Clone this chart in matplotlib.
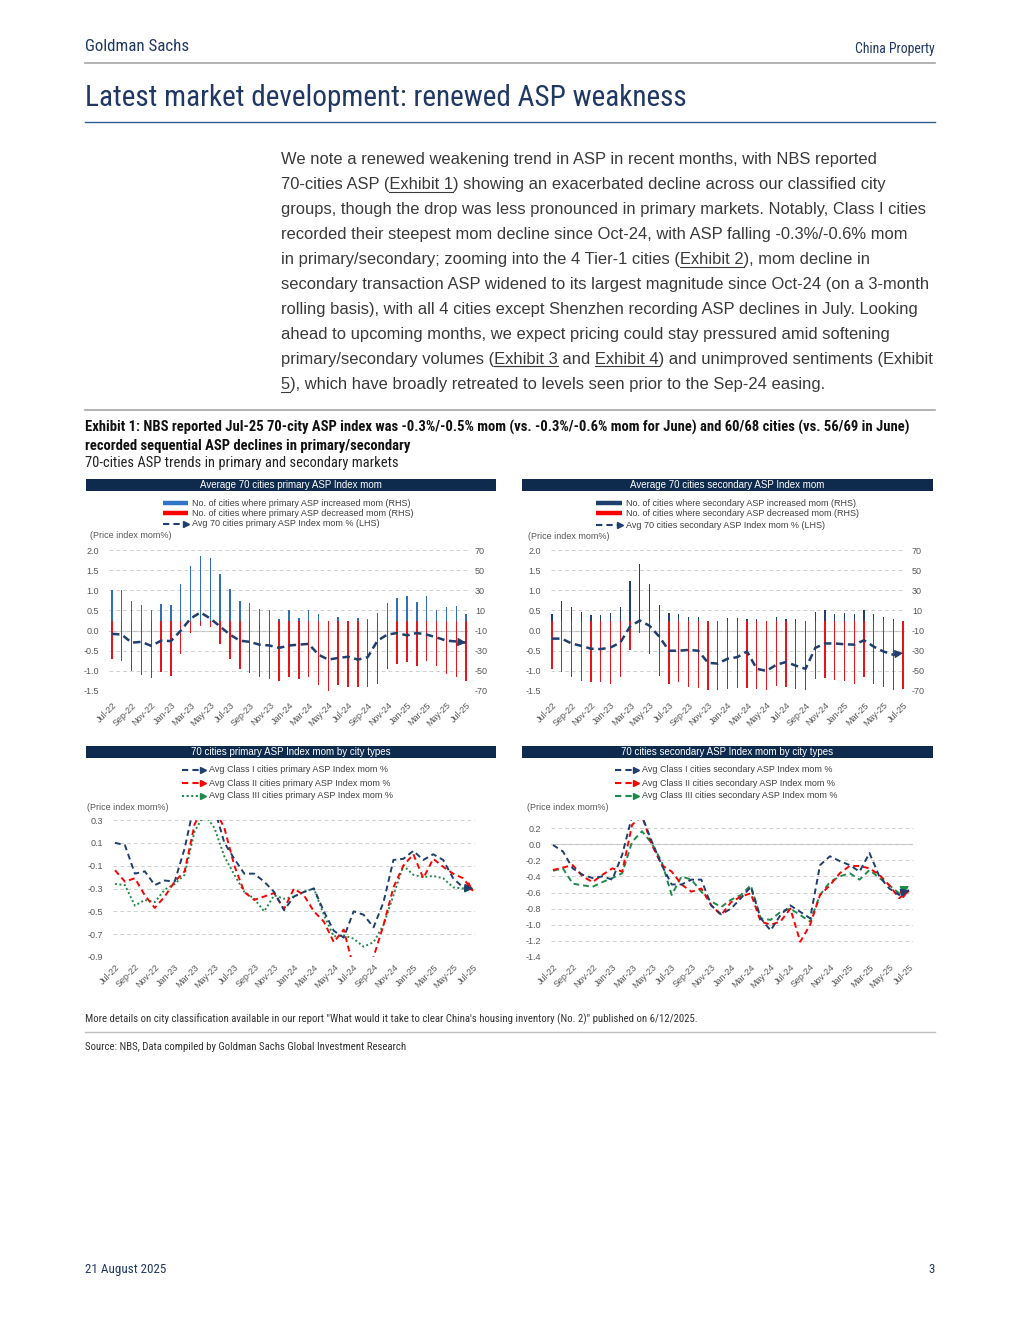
import matplotlib
matplotlib.use('Agg')
import matplotlib.pyplot as plt
from matplotlib import font_manager
from matplotlib.lines import Line2D
from matplotlib.patches import Rectangle

# ---- data ----
months = ['Jul-22', 'Aug-22', 'Sep-22', 'Oct-22', 'Nov-22', 'Dec-22', 'Jan-23', 'Feb-23', 'Mar-23',
          'Apr-23', 'May-23', 'Jun-23', 'Jul-23', 'Aug-23', 'Sep-23', 'Oct-23', 'Nov-23', 'Dec-23',
          'Jan-24', 'Feb-24', 'Mar-24', 'Apr-24', 'May-24', 'Jun-24', 'Jul-24', 'Aug-24', 'Sep-24',
          'Oct-24', 'Nov-24', 'Dec-24', 'Jan-25', 'Feb-25', 'Mar-25', 'Apr-25', 'May-25', 'Jun-25',
          'Jul-25']
tick_labels = months[::2]

# primary market: no. of cities up / down (RHS), avg mom % (LHS)
primary_up = [30, 30, 19, 15, 10, 16, 15, 36, 54, 64, 62, 46, 31, 19, 17, 11, 10, 1, 10, 2, 10,
              6, 0, 3, 0, 2, 1, 7, 17, 22, 24, 18, 24, 10, 13, 14, 6]
primary_down = [38, 40, 50, 54, 57, 51, 55, 33, 12, 5, 6, 23, 38, 48, 52, 56, 58, 60, 56, 58, 56,
                64, 70, 64, 66, 66, 66, 63, 48, 43, 41, 45, 40, 45, 53, 56, 60]
primary_avg = [-0.08, -0.1, -0.3, -0.28, -0.38, -0.25, -0.26, 0.0, 0.3, 0.45, 0.3, 0.1, -0.1,
               -0.25, -0.28, -0.35, -0.37, -0.43, -0.37, -0.35, -0.33, -0.6, -0.72, -0.68, -0.65,
               -0.72, -0.66, -0.25, -0.1, -0.06, -0.12, -0.06, -0.1, -0.17, -0.25, -0.27, -0.3]

# secondary market
secondary_up = [6, 19, 13, 8, 5, 5, 7, 13, 39, 56, 36, 15, 7, 6, 3, 3, 0, 0, 2, 2, 1, 1, 0, 3, 1,
                1, 0, 8, 10, 6, 7, 6, 10, 6, 3, 1, 0]
secondary_down = [48, 51, 56, 60, 61, 61, 63, 56, 29, 12, 33, 55, 63, 61, 66, 67, 69, 69, 68, 67,
                  67, 68, 69, 65, 66, 68, 69, 58, 57, 59, 60, 63, 56, 63, 66, 69, 68]
secondary_avg = [-0.2, -0.2, -0.32, -0.38, -0.45, -0.46, -0.42, -0.3, 0.1, 0.25, 0.12, -0.15,
                 -0.5, -0.5, -0.48, -0.5, -0.8, -0.82, -0.7, -0.66, -0.52, -0.95, -1.0, -0.85,
                 -0.78, -0.87, -0.95, -0.43, -0.32, -0.32, -0.34, -0.35, -0.24, -0.4, -0.52,
                 -0.6, -0.56]

# primary by city class
prim_c1 = [0.1, 0.08, -0.17, -0.15, -0.27, -0.23, -0.24, 0.05, 0.45, 0.6, 0.4, 0.1, -0.04, -0.17,
           -0.17, -0.24, -0.33, -0.49, -0.37, -0.33, -0.3, -0.5, -0.67, -0.73, -0.5, -0.53, -0.64,
           -0.42, -0.05, -0.04, 0.03, -0.05, 0.0, -0.05, -0.21, -0.29, -0.3]
prim_c2 = [-0.14, -0.24, -0.21, -0.36, -0.47, -0.37, -0.24, -0.15, 0.26, 0.45, 0.4, 0.23, -0.1,
           -0.33, -0.4, -0.37, -0.34, -0.48, -0.3, -0.36, -0.5, -0.59, -0.77, -0.66, -1.0, -1.1,
           -0.9, -0.62, -0.29, -0.1, 0.0, -0.21, -0.04, -0.11, -0.17, -0.21, -0.32]
prim_c3 = [-0.26, -0.27, -0.45, -0.4, -0.42, -0.31, -0.26, -0.18, 0.2, 0.35, 0.23, -0.02, -0.18,
           -0.33, -0.39, -0.5, -0.36, -0.39, -0.37, -0.33, -0.3, -0.53, -0.72, -0.71, -0.74, -0.81,
           -0.77, -0.62, -0.36, -0.1, -0.18, -0.2, -0.19, -0.21, -0.29, -0.3, -0.3]

# secondary by city class
sec_c1 = [-0.01, -0.09, -0.3, -0.38, -0.42, -0.4, -0.44, -0.13, 0.35, 0.35, 0.03, -0.26, -0.5,
          -0.5, -0.44, -0.44, -0.76, -0.87, -0.8, -0.67, -0.53, -0.92, -1.07, -0.88, -0.76, -0.84,
          -0.92, -0.26, -0.15, -0.21, -0.26, -0.34, -0.11, -0.4, -0.55, -0.63, -0.57]
sec_c2 = [-0.32, -0.29, -0.26, -0.4, -0.47, -0.38, -0.3, -0.34, 0.24, 0.35, -0.01, -0.26, -0.34,
          -0.5, -0.59, -0.55, -0.76, -0.88, -0.72, -0.65, -0.61, -0.96, -1.0, -0.96, -0.8, -1.21,
          -1.0, -0.63, -0.51, -0.36, -0.27, -0.27, -0.3, -0.38, -0.51, -0.67, -0.58]
sec_c3 = [-0.33, -0.3, -0.49, -0.51, -0.53, -0.47, -0.42, -0.36, 0.03, 0.16, 0.01, -0.22, -0.63,
          -0.4, -0.44, -0.59, -0.71, -0.78, -0.69, -0.63, -0.51, -0.92, -0.94, -0.84, -0.8, -0.88,
          -0.96, -0.63, -0.47, -0.4, -0.36, -0.44, -0.32, -0.42, -0.51, -0.61, -0.52]

body_lines = [
    "We note a renewed weakening trend in ASP in recent months, with NBS reported",
    "70-cities ASP (Exhibit 1) showing an exacerbated decline across our classified city",
    "groups, though the drop was less pronounced in primary markets. Notably, Class I cities",
    "recorded their steepest mom decline since Oct-24, with ASP falling -0.3%/-0.6% mom",
    "in primary/secondary; zooming into the 4 Tier-1 cities (Exhibit 2), mom decline in",
    "secondary transaction ASP widened to its largest magnitude since Oct-24 (on a 3-month",
    "rolling basis), with all 4 cities except Shenzhen recording ASP declines in July. Looking",
    "ahead to upcoming months, we expect pricing could stay pressured amid softening",
    "primary/secondary volumes (Exhibit 3 and Exhibit 4) and unimproved sentiments (Exhibit",
    "5), which have broadly retreated to levels seen prior to the Sep-24 easing.",
]
underlined = [(1, "Exhibit 1"), (4, "Exhibit 2"), (8, "Exhibit 3"), (8, "Exhibit 4"),
              (8, "(Exhibit"), (9, "5")]

# ---- page setup ----
W, H = 1020, 1320
NAVY = '#1f3864'
BAR_NAVY = '#0e2b4d'
GREY_TXT = '#595959'
RED = '#ff0000'
GREEN = '#1e8a4a'

names = {f.name for f in font_manager.fontManager.ttflist}
COND = 'Liberation Sans'
for cand in ['Liberation Sans Narrow', 'Roboto Condensed', 'DejaVu Sans Condensed']:
    if cand in names:
        COND = cand
        break
SANS = 'Liberation Sans' if 'Liberation Sans' in names else 'DejaVu Sans'
plt.rcParams['font.family'] = [SANS, 'DejaVu Sans']
plt.rcParams['axes.unicode_minus'] = False

fig = plt.figure(figsize=(W / 100, H / 100), dpi=100)
renderer = fig.canvas.get_renderer()


def fx(x):
    return x / W


def fy(y):
    return 1 - y / H


def text_w(s, size, family, weight='normal'):
    fp = font_manager.FontProperties(family=family, size=size, weight=weight)
    return renderer.get_text_width_height_descent(s, fp, ismath=False)[0]


def fit_size(s, target, family, weight='normal'):
    return 10 * target / text_w(s, 10, family, weight)


def hline(x0, x1, y, color, lw=1.0):
    fig.add_artist(Line2D([fx(x0), fx(x1)], [fy(y), fy(y)], color=color, lw=lw))


def ftext(x, y, s, size, family=SANS, color='#333333', weight='normal', ha='left', va='baseline'):
    fig.text(fx(x), fy(y), s, fontsize=size, family=family, color=color, weight=weight,
             ha=ha, va=va)


# header
ftext(85, 51, 'Goldman Sachs', fit_size('Goldman Sachs', 104, COND), COND, NAVY)
ftext(935, 53, 'China Property', fit_size('China Property', 80, COND), COND, NAVY, ha='right')
hline(85, 935, 63, '#a6a6a6', 1.2)
title = 'Latest market development: renewed ASP weakness'
ftext(85, 106, title, fit_size(title, 596, COND), COND, NAVY)
hline(85, 935, 122, '#2f5f8f', 1.0)

# body paragraph
bsize = fit_size(body_lines[8], 652, SANS)
for i, line in enumerate(body_lines):
    yb = 164 + 25 * i
    ftext(281, yb, line, bsize, SANS, '#3a3a3a')
for li, sub in underlined:
    line = body_lines[li]
    k = line.index(sub)
    if sub.startswith('('):
        k += 1
        sub = sub[1:]
    x0 = 281 + text_w(line[:k], bsize, SANS)
    x1 = x0 + text_w(sub, bsize, SANS)
    yb = 164 + 25 * li + 2.5
    hline(x0, x1, yb, '#3a3a3a', 0.8)

hline(85, 935, 410, '#a6a6a6', 1.2)

# exhibit caption
cap1 = ('Exhibit 1: NBS reported Jul-25 70-city ASP index was -0.3%/-0.5% mom (vs. -0.3%/-0.6% '
        'mom for June) and 60/68 cities (vs. 56/69 in June)')
cap2 = 'recorded sequential ASP declines in primary/secondary'
cap3 = '70-cities ASP trends in primary and secondary markets'
csize = fit_size(cap1, 825, COND, 'bold')
ftext(85, 432, cap1, csize, COND, '#111111', 'bold')
ftext(85, 450, cap2, csize, COND, '#111111', 'bold')
ftext(85, 467, cap3, fit_size(cap3, 310, COND), COND, '#222222')

FS = 6.5


def panel_title(x0, x1, y0, y1, s):
    fig.add_artist(Rectangle((fx(x0), fy(y1)), (x1 - x0) / W, (y1 - y0) / H,
                             color=BAR_NAVY, lw=0))
    fig.text(fx((x0 + x1) / 2), fy((y0 + y1) / 2), s, color='white', fontsize=7,
             ha='center', va='center')


def legend_row(x0, x1, y, s, color, kind):
    if kind == 'bar':
        fig.add_artist(Line2D([fx(x0), fx(x1)], [fy(y), fy(y)], color=color, lw=3.2,
                              solid_capstyle='butt'))
    else:
        ls = (0, (1, 1.2)) if kind == 'dot' else (0, (3, 2))
        fig.add_artist(Line2D([fx(x0), fx(x1 - 3)], [fy(y), fy(y)], color=color, lw=1.5,
                              linestyle=ls))
        fig.add_artist(Line2D([fx(x1 - 2)], [fy(y)], color=color, marker='>', markersize=4,
                              lw=0))
    fig.text(fx(x1 + 4), fy(y), s, fontsize=FS, color='#404040', va='center')


def add_ax(l, t, r, b):
    return fig.add_axes([fx(l), fy(b), (r - l) / W, (b - t) / H])


def style_x(ax, pad):
    ax.set_xticks(range(0, len(months), 2))
    ax.set_xticklabels(tick_labels, rotation=45, ha='right', rotation_mode='anchor',
                       fontsize=FS, color=GREY_TXT)
    ax.tick_params(axis='x', length=0, pad=pad)
    for sp in ax.spines.values():
        sp.set_visible(False)


def arrow_end(ax, ys, color):
    n = len(ys)
    ax.annotate('', xy=(n - 1, ys[-1]), xytext=(n - 1.6, ys[-2] + 0.6 * (ys[-1] - ys[-2])),
                arrowprops=dict(arrowstyle='-|>,head_length=0.5,head_width=0.25', color=color,
                                lw=0.8, shrinkA=0, shrinkB=0), annotation_clip=False)


def bar_panel(l, t, r, b, xlim, up, down, avg, up_color):
    ax = add_ax(l, t, r, b)
    x = range(len(months))
    ax.bar(x, up, width=0.14, color=up_color, zorder=2)
    ax.bar(x, [-d for d in down], width=0.14, color='#e8141b', zorder=2)
    ax.set_ylim(-70, 70)
    ax.set_yticks(range(-70, 71, 20))
    ax.grid(axis='y', color='#d0d0d0', lw=0.7, linestyle=(0, (4, 3)), zorder=0)
    ax.axhline(-10, color='#bfbfbf', lw=0.8, zorder=1)
    ax.set_xlim(*xlim)
    style_x(ax, 7)
    ax2 = ax.twinx()
    ax.yaxis.tick_right()
    ax.tick_params(axis='y', length=0, labelsize=FS, labelcolor=GREY_TXT, pad=5,
                   labelleft=False, labelright=True)
    ax2.plot(x, avg, color='#1f3f6e', lw=1.8, linestyle=(0, (3, 1.8)))
    arrow_end(ax2, avg, '#1f3f6e')
    ax2.set_ylim(-1.5, 2.0)
    ax2.set_yticks([-1.5, -1.0, -0.5, 0.0, 0.5, 1.0, 1.5, 2.0])
    ax2.set_yticklabels(['%.1f' % v for v in ax2.get_yticks()])
    ax2.yaxis.tick_left()
    ax2.tick_params(axis='y', length=0, labelsize=FS, labelcolor=GREY_TXT, pad=7,
                    labelleft=True, labelright=False)
    for sp in ax2.spines.values():
        sp.set_visible(False)
    ax2.set_xlim(*xlim)


def class_panel(l, t, r, b, xlim, ylim, yticks, series, zero):
    ax = add_ax(l, t, r, b)
    x = range(len(months))
    ax.set_ylim(*ylim)
    ax.set_yticks(yticks)
    ax.set_yticklabels(['%.1f' % v for v in yticks])
    ax.tick_params(axis='y', length=0, labelsize=FS, labelcolor=GREY_TXT, pad=7)
    ax.grid(axis='y', color='#d0d0d0', lw=0.7, linestyle=(0, (4, 3)), zorder=0)
    if zero:
        ax.axhline(0, color='#bfbfbf', lw=0.8, zorder=1)
    for ys, color, ls in series:
        ax.plot(x, ys, color=color, lw=1.4, linestyle=ls, zorder=3)
        arrow_end(ax, ys, color)
    ax.set_xlim(*xlim)
    style_x(ax, 4)


# top-left: primary bars
panel_title(86, 496, 479, 491, 'Average 70 cities primary ASP Index mom')
legend_row(163, 188, 503, 'No. of cities where primary ASP increased mom (RHS)', '#2e75c9', 'bar')
legend_row(163, 188, 513, 'No. of cities where primary ASP decreased mom (RHS)', '#ff0000', 'bar')
legend_row(163, 188, 524, 'Avg 70 cities primary ASP Index mom % (LHS)', '#1f3f6e', 'dash')
ftext(90, 536, '(Price index mom%)', FS, color=GREY_TXT, va='center')
bar_panel(109, 550, 468, 691, (-0.3, 36.2), primary_up, primary_down, primary_avg, '#2e6fb7')

# top-right: secondary bars
panel_title(522, 933, 479, 491, 'Average 70 cities secondary ASP Index mom')
legend_row(596, 622, 503, 'No. of cities where secondary ASP increased mom (RHS)', '#1f3f6e', 'bar')
legend_row(596, 622, 513, 'No. of cities where secondary ASP decreased mom (RHS)', '#ff0000', 'bar')
legend_row(596, 622, 525, 'Avg 70 cities secondary ASP Index mom % (LHS)', '#1f3f6e', 'dash')
ftext(528, 537, '(Price index mom%)', FS, color=GREY_TXT, va='center')
bar_panel(551, 550, 905, 691, (-0.1, 36.2), secondary_up, secondary_down, secondary_avg,
          '#1f3f6e')

# bottom-left: primary by city class
DASH = (0, (3, 2))
DOT = (0, (1, 1.3))
panel_title(86, 496, 746, 758, '70 cities primary ASP Index mom by city types')
legend_row(182, 205, 770, 'Avg Class I cities primary ASP Index mom %', '#1f3f6e', 'dash')
legend_row(182, 205, 783, 'Avg Class II cities primary ASP Index mom %', RED, 'dash')
legend_row(182, 205, 796, 'Avg Class III cities primary ASP Index mom %', GREEN, 'dot')
ftext(87, 808, '(Price index mom%)', FS, color=GREY_TXT, va='center')
class_panel(113, 820, 475, 957, (-0.2, 36.2), (-0.9, 0.3),
            [-0.9, -0.7, -0.5, -0.3, -0.1, 0.1, 0.3],
            [(prim_c3, GREEN, DOT), (prim_c2, RED, DASH), (prim_c1, '#1f3f6e', DASH)], False)

# bottom-right: secondary by city class
panel_title(522, 933, 746, 758, '70 cities secondary ASP Index mom by city types')
legend_row(615, 638, 770, 'Avg Class I cities secondary ASP Index mom %', '#1f3f6e', 'dash')
legend_row(615, 638, 783, 'Avg Class II cities secondary ASP Index mom %', RED, 'dash')
legend_row(615, 638, 796, 'Avg Class III cities secondary ASP Index mom %', GREEN, 'dash')
ftext(527, 808, '(Price index mom%)', FS, color=GREY_TXT, va='center')
class_panel(551, 820, 913, 957, (-0.2, 36.4), (-1.4, 0.3),
            [-1.4, -1.2, -1.0, -0.8, -0.6, -0.4, -0.2, 0.0, 0.2],
            [(sec_c3, GREEN, DASH), (sec_c2, RED, DASH), (sec_c1, '#1f3f6e', DASH)], True)

# notes and footer
note = ('More details on city classification available in our report "What would it take to '
        'clear China\'s housing inventory (No. 2)" published on 6/12/2025.')
ftext(85, 1022, note, fit_size(note, 609, COND), COND, '#333333')
hline(85, 935, 1032, '#c0c0c0', 1.0)
src = 'Source: NBS, Data compiled by Goldman Sachs Global Investment Research'
ftext(85, 1050, src, fit_size(src, 320, COND), COND, '#333333')
ftext(85, 1273, '21 August 2025', fit_size('21 August 2025', 80, COND), COND, NAVY)
ftext(935, 1273, '3', fit_size('21 August 2025', 80, COND), COND, NAVY, ha='right')

fig.savefig('out.png', dpi=100)
